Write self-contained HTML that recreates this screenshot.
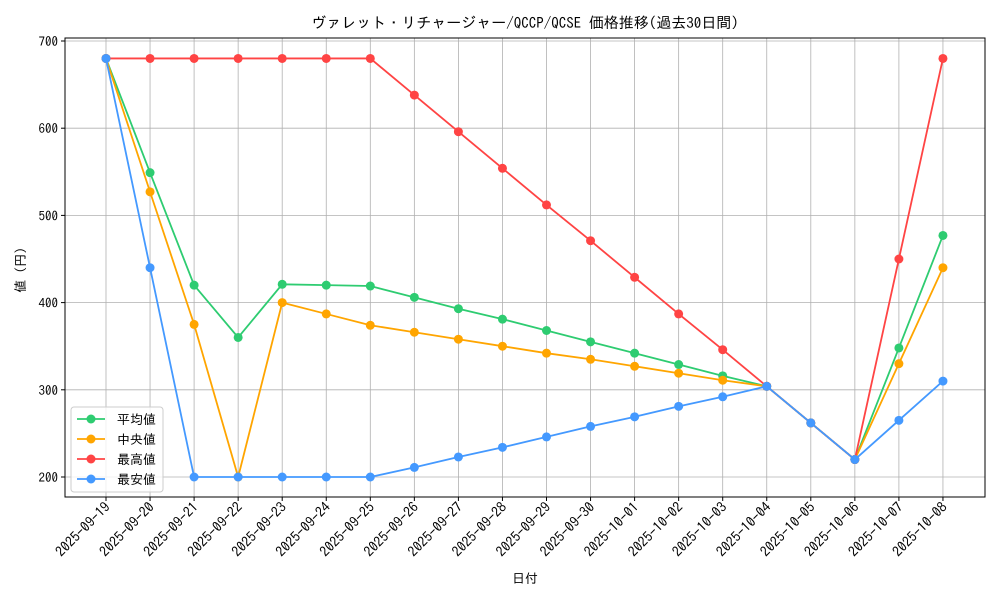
<!DOCTYPE html>
<html><head><meta charset="utf-8"><style>
body{margin:0;background:#fff}
svg text{font-family:"IPAGothic","Liberation Sans","Noto Sans CJK JP",sans-serif;fill:#000}
</style></head><body>
<svg id="s" width="1000" height="600" xmlns="http://www.w3.org/2000/svg"></svg>
<script>
const s=document.getElementById('s');
const L=65,R=985,T=38,B=497;
const X=i=>106+44.05*i, Y=v=>477-(v-200)*0.872;
const dates=[];for(let d=19;d<=30;d++)dates.push('2025-09-'+d);for(let d=1;d<=8;d++)dates.push('2025-10-0'+d);
const ser=[
['平均値','#2ecc71',[680,549,420,360,421,420,419,406,393,381,368,355,342,329,316,304,262,220,348,477]],
['中央値','#ffa500',[680,527,375,200,400,387,374,366,358,350,342,335,327,319,311,304,262,220,330,440]],
['最高値','#ff4444',[680,680,680,680,680,680,680,638,596,554,512,471,429,387,346,304,262,220,450,680]],
['最安値','#4499ff',[680,440,200,200,200,200,200,211,223,234,246,258,269,281,292,304,262,220,265,310]]];
let h='';
for(let i=0;i<20;i++){const x=X(i);h+=`<line x1="${x}" y1="${T}" x2="${x}" y2="${B}" stroke="#b0b0b0" stroke-width="0.8"/><line x1="${x}" y1="${B}" x2="${x}" y2="${B+4}" stroke="#000"/><text transform="translate(${x+5},${B+11}) rotate(-45)" text-anchor="end" font-size="14">${dates[i]}</text>`;}
for(let v=200;v<=700;v+=100){const y=Y(v);h+=`<line x1="${L}" y1="${y}" x2="${R}" y2="${y}" stroke="#b0b0b0" stroke-width="0.8"/><line x1="${L-4}" y1="${y}" x2="${L}" y2="${y}" stroke="#000"/><text x="${L-7}" y="${y+5}" text-anchor="end" font-size="13">${v}</text>`;}
for(const [n,c,d] of ser){h+=`<polyline fill="none" stroke="${c}" stroke-width="1.8" points="${d.map((v,i)=>X(i)+','+Y(v)).join(' ')}"/>`;d.forEach((v,i)=>h+=`<circle cx="${X(i)}" cy="${Y(v)}" r="4.5" fill="${c}"/>`);}
h+=`<rect x="${L}" y="${T}" width="${R-L}" height="${B-T}" fill="none" stroke="#000" stroke-width="1"/>`;
h+=`<rect x="71" y="407" width="92" height="85" rx="3" fill="#fff" fill-opacity="0.8" stroke="#ccc"/>`;
ser.forEach(([n,c],k)=>{const y=419+k*20;h+=`<line x1="77" y1="${y}" x2="105" y2="${y}" stroke="${c}" stroke-width="1.8"/><circle cx="91" cy="${y}" r="4.5" fill="${c}"/><text x="117" y="${y+5}" font-size="13">${n}</text>`;});
h+=`<text x="525" y="28" text-anchor="middle" font-size="15">ヴァレット・リチャージャー/QCCP/QCSE 価格推移(過去30日間)</text>`;
h+=`<text x="525" y="583" text-anchor="middle" font-size="13">日付</text>`;
h+=`<text transform="translate(25,270) rotate(-90)" text-anchor="middle" font-size="13">値 (円)</text>`;
s.innerHTML=h;
</script>
</body></html>
